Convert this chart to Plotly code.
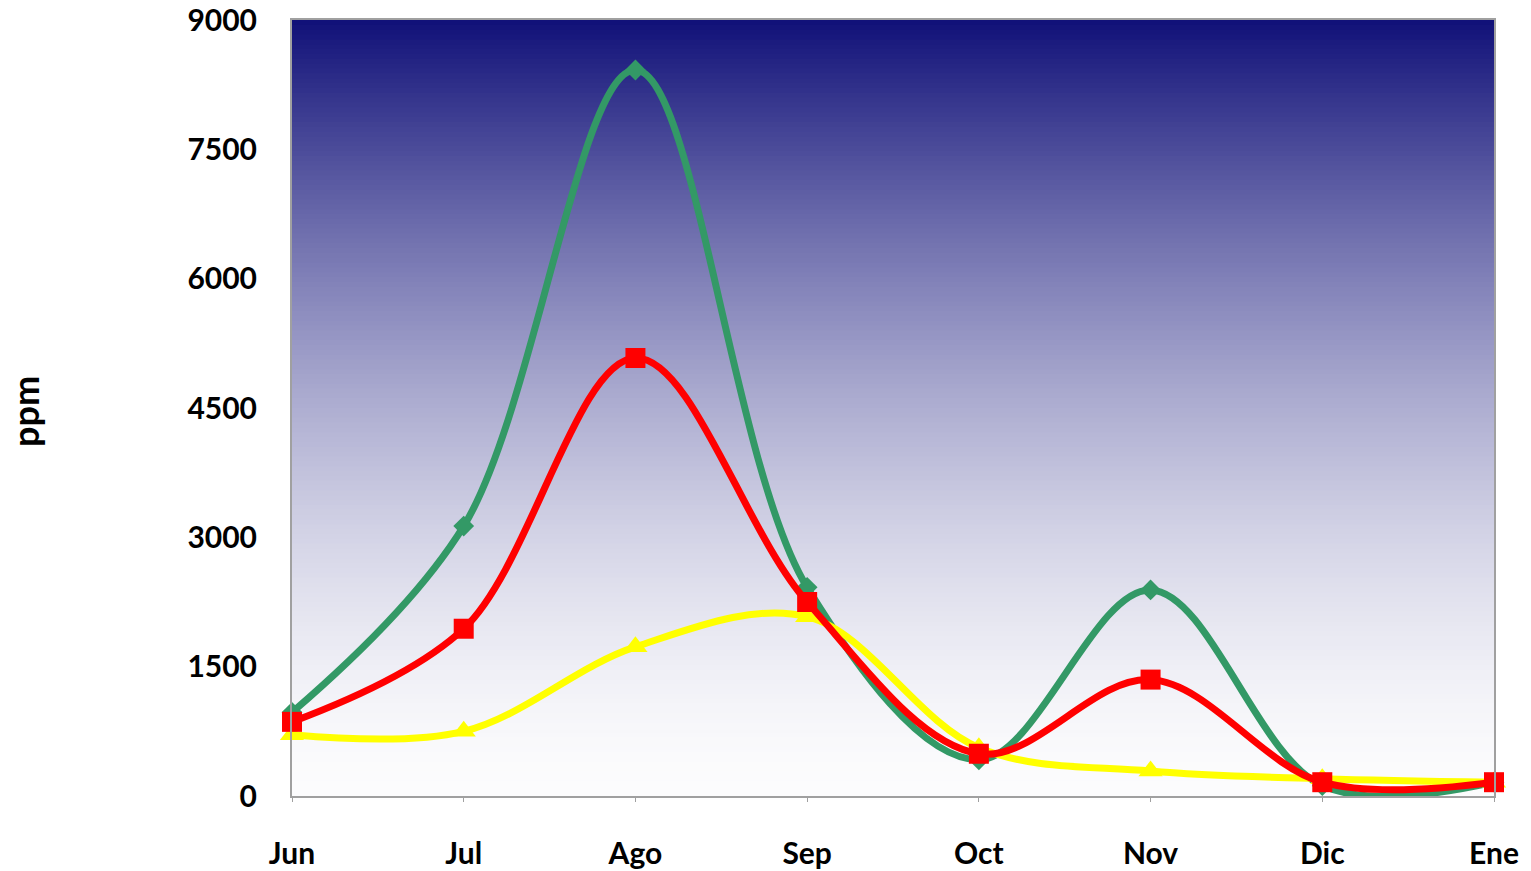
import plotly.graph_objects as go

months = ["Jun", "Jul", "Ago", "Sep", "Oct", "Nov", "Dic", "Ene"]
green_vals = [970, 3130, 8420, 2420, 420, 2390, 120, 160]
yellow_vals = [710, 750, 1730, 2080, 560, 290, 200, 160]
red_vals = [860, 1940, 5080, 2250, 490, 1350, 160, 160]
y_ticks = [0, 1500, 3000, 4500, 6000, 7500, 9000]

x = list(range(len(months)))
FONT = "Lato"

fig = go.Figure()

fig.add_trace(go.Scatter(
    x=x, y=green_vals, mode="lines+markers",
    line=dict(color="#339966", width=7, shape="spline", smoothing=1.0),
    marker=dict(symbol="diamond", size=16, color="#339966"),
    cliponaxis=False, showlegend=False))
fig.add_trace(go.Scatter(
    x=x, y=yellow_vals, mode="lines+markers",
    line=dict(color="#FFFF00", width=7, shape="spline", smoothing=1.0),
    marker=dict(symbol="triangle-up", size=21, color="#FFFF00"),
    cliponaxis=False, showlegend=False))
fig.add_trace(go.Scatter(
    x=x, y=red_vals, mode="lines+markers",
    line=dict(color="#FF0000", width=7, shape="spline", smoothing=1.0),
    marker=dict(symbol="square", size=20, color="#FF0000"),
    cliponaxis=False, showlegend=False))

# vertical gradient background (navy at top to white at bottom)
shapes = []
n = 160
top = (16, 16, 120)
bot = (252, 252, 253)
for i in range(n):
    y0 = i / n
    y1 = (i + 1) / n
    f = ((y0 + y1) / 2) ** 1.6
    c = tuple(int(round(bot[k] + (top[k] - bot[k]) * f)) for k in range(3))
    shapes.append(dict(type="rect", xref="paper", yref="paper",
                       x0=0, x1=1, y0=y0, y1=y1 + 0.001,
                       fillcolor="rgb(%d,%d,%d)" % c, line=dict(width=0),
                       layer="below"))

fig.update_layout(
    width=1531, height=871,
    margin=dict(l=292, r=37, t=20, b=75),
    paper_bgcolor="white", plot_bgcolor="white",
    shapes=shapes,
    font=dict(family=FONT, size=30, color="black"),
    xaxis=dict(range=[0, 7], tickvals=x, ticktext=months,
               showgrid=False, zeroline=False, automargin=False,
               showline=True, linecolor="#A0A0A0", linewidth=2, mirror=True,
               ticks="outside", ticklen=4, tickcolor="#A0A0A0",
               ticklabelstandoff=26,
               tickfont=dict(family=FONT, size=30, color="black", weight="bold")),
    yaxis=dict(range=[0, 9000], tickvals=y_ticks,
               showgrid=False, zeroline=False, automargin=False,
               showline=True, linecolor="#A0A0A0", linewidth=2, mirror=True,
               ticks="", ticklabelstandoff=27,
               tickfont=dict(family=FONT, size=30, color="black", weight="bold")),
    annotations=[dict(text="<b>ppm</b>", xref="paper", yref="paper",
                      x=0, y=0.495, xanchor="center", yanchor="middle",
                      showarrow=False, textangle=-90,
                      font=dict(family=FONT, size=36, color="black"))],
)
fig.layout.annotations[0].x = (25 - 292) / (1531 - 292 - 37)

fig.write_html("out.html")
